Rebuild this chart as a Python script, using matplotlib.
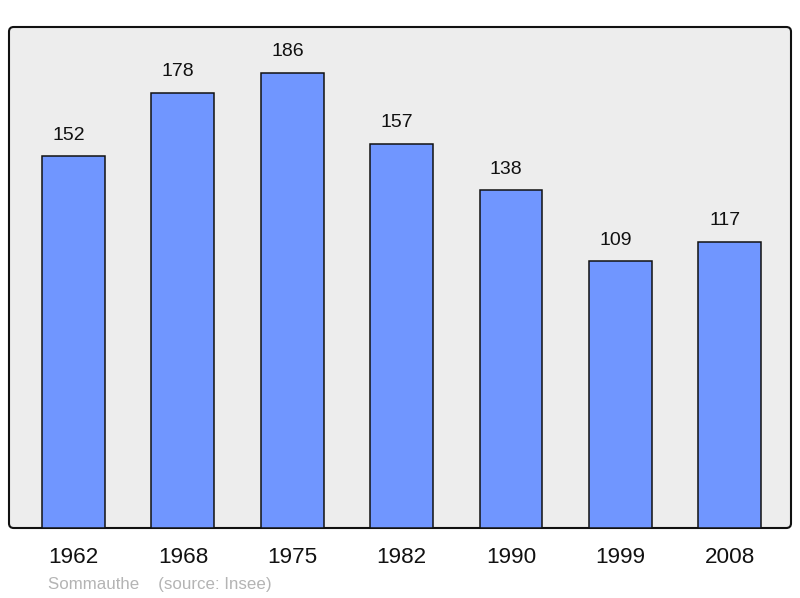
import matplotlib
matplotlib.use("Agg")
import matplotlib.pyplot as plt
from matplotlib.patches import FancyBboxPatch

years = ["1962", "1968", "1975", "1982", "1990", "1999", "2008"]
population = [152, 178, 186, 157, 138, 109, 117]

plt.rcParams['font.family'] = ['Liberation Sans', 'DejaVu Sans']

fig = plt.figure(figsize=(8, 5.98), dpi=100)
ax = fig.add_axes([9/800, 1-528/598, 782/800, 501/598])
ax.set_facecolor('none')
for s in ax.spines.values():
    s.set_visible(False)

bg = FancyBboxPatch((0, 0), 1, 1, boxstyle="round,pad=0,rounding_size=0.006",
                    transform=ax.transAxes, facecolor='#ededed', edgecolor='#111111',
                    linewidth=1.5, clip_on=False, zorder=0, mutation_aspect=782/501)
ax.add_patch(bg)

x = list(range(len(years)))
bars = ax.bar(x, population, width=0.575, color='#7096ff', edgecolor='#111111',
              linewidth=1.1, zorder=2)
for xi, v in zip(x, population):
    ax.annotate(str(v), (xi, v), xytext=(-3.5, 9), textcoords='offset points',
                ha='center', va='bottom', fontsize=14, color='#111111')

ax.set_xlim(-0.59, 6.56)
ax.set_ylim(0, 204.8)
ax.set_yticks([])
ax.set_xticks(x)
ax.set_xticklabels(years, fontsize=16.2, color='#111111')
ax.tick_params(axis='x', length=0, pad=14)
for lbl in ax.get_xticklabels():
    lbl.set_x(lbl.get_position()[0])

fig.text(48/800, 1-584/598, "Sommauthe    (source: Insee)", fontsize=12.2,
         color='#b4b4b4', ha='left', va='center')

fig.savefig("out.png", dpi=100)
